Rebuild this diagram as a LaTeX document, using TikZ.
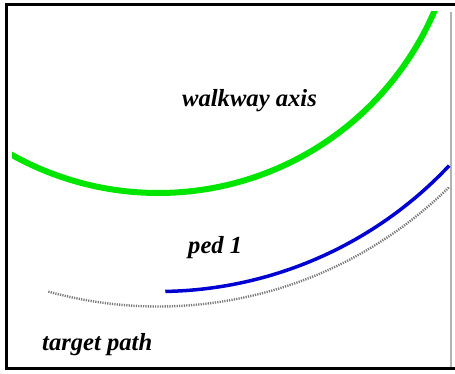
\documentclass[tikz,border=0pt]{standalone}
\usepackage{fontspec}
\setmainfont{Liberation Serif}
\definecolor{axisgreen}{RGB}{0,230,0}
\definecolor{pedblue}{RGB}{0,0,210}
\definecolor{pathgray}{RGB}{120,120,120}
\tikzset{
  lbl/.style={font=\fontsize{24.6}{28}\selectfont\bfseries\itshape, inner sep=0pt, anchor=base west},
}
\begin{document}
\begin{tikzpicture}[x=1pt,y=1pt]
  \useasboundingbox (0,0) rectangle (455,373);
  % frame
  \draw[line width=3pt] (455,368) -- (6,368) -- (6,4.5) -- (455,4.5);
  \draw[black!30, line width=2pt] (451,361) -- (451,6);
  % common centre of the three arcs
  \coordinate (c) at (158.3,480.5);
  \begin{scope}
    \clip (12,6) rectangle (449,361);
    \draw[axisgreen, line width=6pt] (c) ++(238:300.5) arc[start angle=238, end angle=338, radius=300.5];
  \end{scope}
  \draw[pedblue, line width=3.5pt] (c) ++(-89:399) arc[start angle=-89, end angle=-43.2, radius=399];
  \draw[pathgray, line width=2.4pt, dash pattern=on 1.2pt off 1.2pt] (c) ++(-105.4:414) arc[start angle=-105.4, end angle=-45.4, radius=414];
  % labels
  \node[lbl] (axis) at (182,266) {walkway axis};
  \node[lbl] (ped) at (188,120) {ped 1};
  \node[lbl] (target) at (42,23) {target path};
\end{tikzpicture}
\end{document}
